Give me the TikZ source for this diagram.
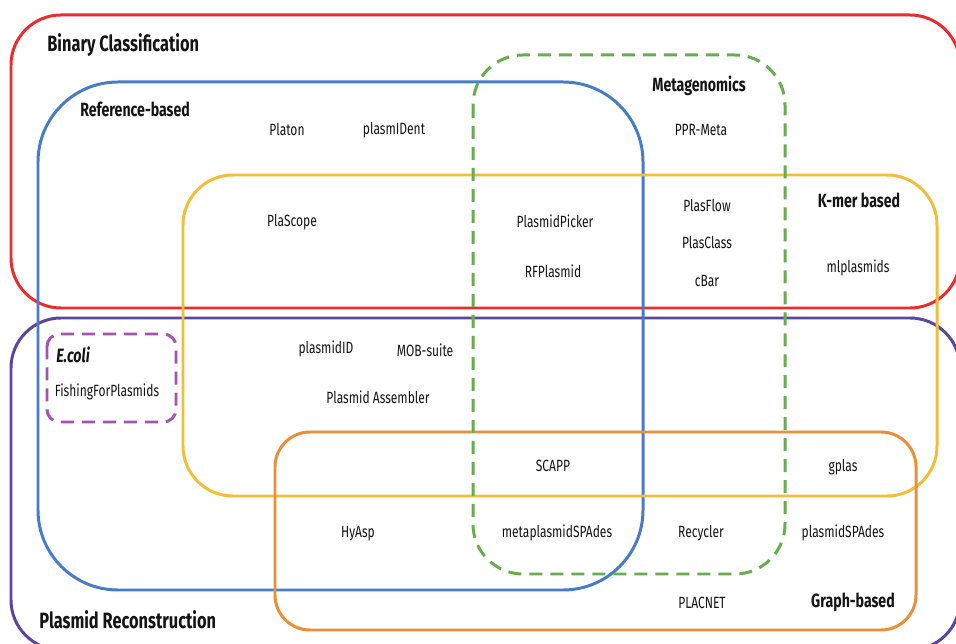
\documentclass[tikz,border=0pt]{standalone}
\usepackage{fontspec}
\setmainfont{Fira Sans}[FakeStretch=0.74]
\usepackage{tikz}
\usetikzlibrary{positioning}
\definecolor{binred}{RGB}{232,44,48}
\definecolor{refblue}{RGB}{72,124,198}
\definecolor{kmeryel}{RGB}{240,190,58}
\definecolor{metagreen}{RGB}{104,172,80}
\definecolor{recpurple}{RGB}{90,70,156}
\definecolor{graphorange}{RGB}{234,142,58}
\definecolor{ecolipink}{RGB}{164,84,176}
\definecolor{inkc}{RGB}{20,20,20}

\begin{document}
\begin{tikzpicture}[
  x=0.02cm, y=-0.02cm,
  region/.style={line width=1.7pt, rounded corners=#1},
  region/.default=1cm,
  dashbox/.style={region=#1, dash pattern=on 0.26cm off 0.16cm},
  tool/.style={font=\fontsize{9.25}{11}\selectfont, text=inkc, inner sep=1pt},
  head/.style={font=\fontsize{12.6}{15}\selectfont\bfseries, text=inkc, inner sep=0pt},
  subhead/.style={head, font=\fontsize{10.9}{13}\selectfont\bfseries},
]
\useasboundingbox (0,0) rectangle (956,644);
\fill[white] (0,0) rectangle (956,644);

% ---- sets ----
\draw[region=1.0cm, binred] (11,15) rectangle (960,308);
\draw[region=1.0cm, recpurple] (11,318) rectangle (960,650);
\draw[region=1.6cm, refblue] (38,82) rectangle (643,590);
\draw[region=1.0cm, kmeryel] (183,175) rectangle (937,496);
\draw[region=0.7cm, graphorange] (275,432) rectangle (916,630);
\draw[dashbox=1.0cm, metagreen] (473,55) rectangle (785,574);
\draw[dashbox=0.25cm, ecolipink] (47,334) rectangle (176,422);

% ---- set labels ----
\node[head, anchor=west] (hBin) at (47,45) {Binary Classification};
\node[subhead, anchor=west] (hRef) at (80,109) {Reference-based};
\node[subhead] (hMeta) at (699,86) {Metagenomics};
\node[subhead] (hKmer) at (859,200) {K-mer based};
\node[subhead, anchor=west, font=\fontsize{11}{13}\selectfont\bfseries\itshape] (hEcoli) at (56,355) {E.coli};
\node[subhead] (hGraph) at (853,602) {Graph-based};
\node[head, anchor=west] (hRec) at (39,620) {Plasmid Reconstruction};

% ---- tools ----
\node[tool] (platon) at (287,130) {Platon};
\node[tool] (plasmident) at (394,130) {plasmIDent};
\node[tool] (pprmeta) at (701,130) {PPR-Meta};
\node[tool] (plascope) at (292,222) {PlaScope};
\node[tool] (picker) at (555,221) {PlasmidPicker};
\node[tool] (rfplasmid) at (553,271) {RFPlasmid};
\node[tool] (plasflow) at (707,206) {PlasFlow};
\node[tool] (plasclass) at (707,243) {PlasClass};
\node[tool] (cbar) at (707,281) {cBar};
\node[tool] (mlplasmids) at (858,268) {mlplasmids};
\node[tool] (fishing) at (107,392) {FishingForPlasmids};
\node[tool] (plasmidid) at (326,349) {plasmidID};
\node[tool] (mobsuite) at (425,350) {MOB-suite};
\node[tool] (assembler) at (378,397) {Plasmid Assembler};
\node[tool] (scapp) at (553,466) {SCAPP};
\node[tool] (gplas) at (843,467) {gplas};
\node[tool] (hyasp) at (358,534) {HyAsp};
\node[tool] (metaspades) at (557,533) {metaplasmidSPAdes};
\node[tool] (recycler) at (701,533) {Recycler};
\node[tool] (plasspades) at (843,533) {plasmidSPAdes};
\node[tool] (placnet) at (702,603) {PLACNET};

\end{tikzpicture}
\end{document}
